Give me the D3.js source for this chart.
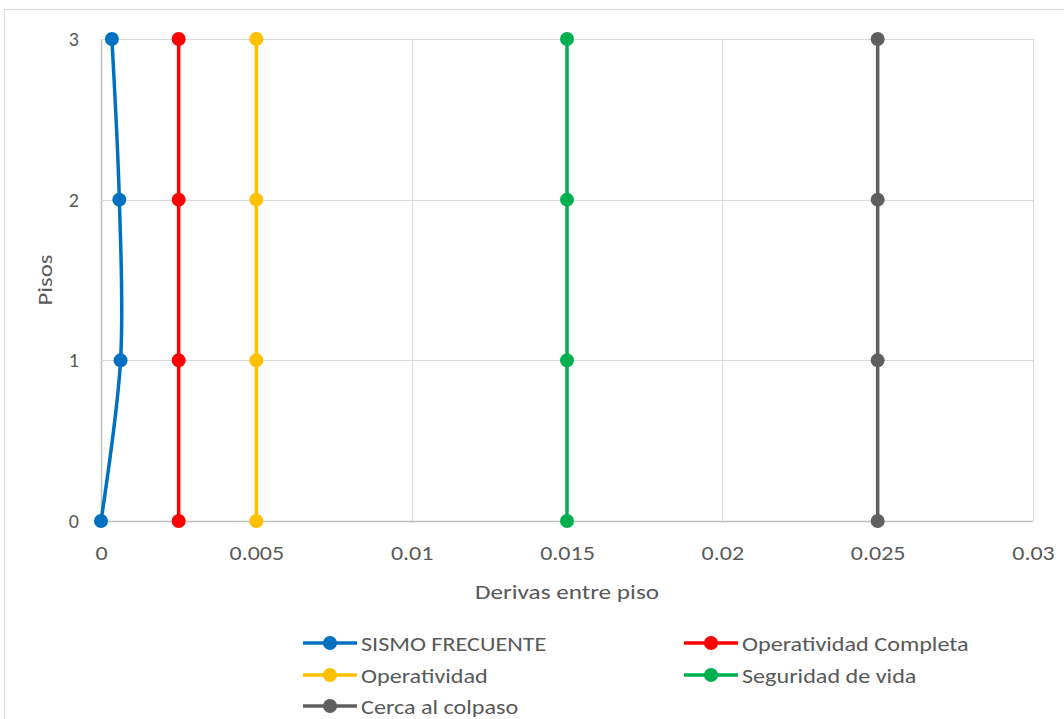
<!DOCTYPE html>
<html>
<head>
<meta charset="utf-8">
<script src="https://cdn.jsdelivr.net/npm/d3@7"></script>
<style>
  html, body { margin: 0; padding: 0; background: #fff; }
  svg { display: block; }
  text { font-family: Carlito, Calibri, Lato, "Liberation Sans", sans-serif; fill: #595959; }
</style>
</head>
<body>
<svg id="chart" width="1064" height="719"></svg>
<script>
// Story levels and interstory drift values
const floors = [0, 1, 2, 3];
const sismoFrecuente = [0, 0.00063, 0.00059, 0.00035];
const operatividadCompleta = [0.0025, 0.0025, 0.0025, 0.0025];
const operatividad = [0.005, 0.005, 0.005, 0.005];
const seguridadDeVida = [0.015, 0.015, 0.015, 0.015];
const cercaAlColapso = [0.025, 0.025, 0.025, 0.025];

const xTicks = [0, 0.005, 0.01, 0.015, 0.02, 0.025, 0.03];
const yTicks = [0, 1, 2, 3];

const seriesNames = ["SISMO FRECUENTE", "Operatividad Completa", "Operatividad", "Seguridad de vida", "Cerca al colpaso"];
const seriesColors = ["#0070c0", "#ff0000", "#ffc000", "#00b050", "#5f5f5f"];
const seriesValues = [sismoFrecuente, operatividadCompleta, operatividad, seguridadDeVida, cercaAlColapso];

const svg = d3.select("#chart");

// widen glyphs slightly so the sans fallback has the proportions of a wider face
function widen(sel, k) {
  sel.each(function () {
    const w = this.getComputedTextLength();
    d3.select(this).attr("textLength", w * k).attr("lengthAdjust", "spacingAndGlyphs");
  });
}

// chart frame
svg.append("rect")
  .attr("x", 4.5).attr("y", 9.5)
  .attr("width", 1080).attr("height", 740)
  .attr("fill", "#fff").attr("stroke", "#d9d9d9").attr("stroke-width", 1);

const x = d3.scaleLinear().domain([0, 0.03]).range([101, 1033]);
const y = d3.scaleLinear().domain([0, 3]).range([521, 39]);

// gridlines
const grid = svg.append("g");
grid.selectAll(".vg").data(xTicks).join("line")
  .attr("x1", d => Math.round(x(d)) + 0.5).attr("x2", d => Math.round(x(d)) + 0.5)
  .attr("y1", y(0)).attr("y2", y(3))
  .attr("stroke", d => d === 0 ? "#bfbfbf" : "#d9d9d9").attr("stroke-width", d => d === 0 ? 1.5 : 1);
grid.selectAll(".hg").data(yTicks).join("line")
  .attr("x1", x(0)).attr("x2", x(0.03))
  .attr("y1", d => Math.round(y(d)) + 0.5).attr("y2", d => Math.round(y(d)) + 0.5)
  .attr("stroke", d => d === 0 ? "#bfbfbf" : "#d9d9d9").attr("stroke-width", d => d === 0 ? 1.5 : 1);

// axes (labels only)
const xAxis = svg.append("g").attr("transform", `translate(0,${y(0)})`)
  .call(d3.axisBottom(x).tickValues(xTicks).tickSize(0).tickPadding(25).tickFormat(d => String(+d.toFixed(3))));
const yAxis = svg.append("g").attr("transform", `translate(${x(0)},0)`)
  .call(d3.axisLeft(y).tickValues(yTicks).tickSize(0).tickPadding(22).tickFormat(d3.format("d")));
[xAxis, yAxis].forEach(a => {
  a.select(".domain").remove();
  a.selectAll("text").attr("font-size", 20).attr("fill", "#595959")
    .style("font-family", "Carlito, Calibri, Lato, 'Liberation Sans', sans-serif");
});
widen(xAxis.selectAll("text"), 1.2);

// axis titles
const xTitle = svg.append("text")
  .attr("x", 567).attr("y", 599).attr("text-anchor", "middle")
  .attr("font-size", 21)
  .text("Derivas entre piso");
widen(xTitle, 1.2);
const yTitle = svg.append("text")
  .attr("transform", "translate(52,280) rotate(-90)")
  .attr("text-anchor", "middle").attr("font-size", 21)
  .text("Pisos");
widen(yTitle, 1.18);

// series
const line = d3.line().x(d => x(d[0])).y(d => y(d[1]));
seriesValues.forEach((vals, i) => {
  const pts = vals.map((v, j) => [v, floors[j]]);
  const g = svg.append("g");
  g.append("path")
    .datum(pts)
    .attr("d", line.curve(i === 0 ? d3.curveCardinal.tension(0) : d3.curveLinear))
    .attr("fill", "none").attr("stroke", seriesColors[i]).attr("stroke-width", 3.5)
    .attr("stroke-linecap", "round");
  g.selectAll("circle").data(pts).join("circle")
    .attr("cx", d => x(d[0])).attr("cy", d => y(d[1])).attr("r", 7)
    .attr("fill", seriesColors[i]);
});

// legend
const legendPos = [
  [303, 643], [684, 643],
  [303, 675], [684, 675],
  [303, 706]
];
seriesNames.forEach((name, i) => {
  const [lx, ly] = legendPos[i];
  const g = svg.append("g");
  g.append("line").attr("x1", lx).attr("x2", lx + 54).attr("y1", ly).attr("y2", ly)
    .attr("stroke", seriesColors[i]).attr("stroke-width", 3.5);
  g.append("circle").attr("cx", lx + 27).attr("cy", ly).attr("r", 7).attr("fill", seriesColors[i]);
  const t = g.append("text").attr("x", lx + 58).attr("y", ly + 8)
    .attr("font-size", 21)
    .text(name);
  widen(t, 1.15);
});
</script>
</body>
</html>
